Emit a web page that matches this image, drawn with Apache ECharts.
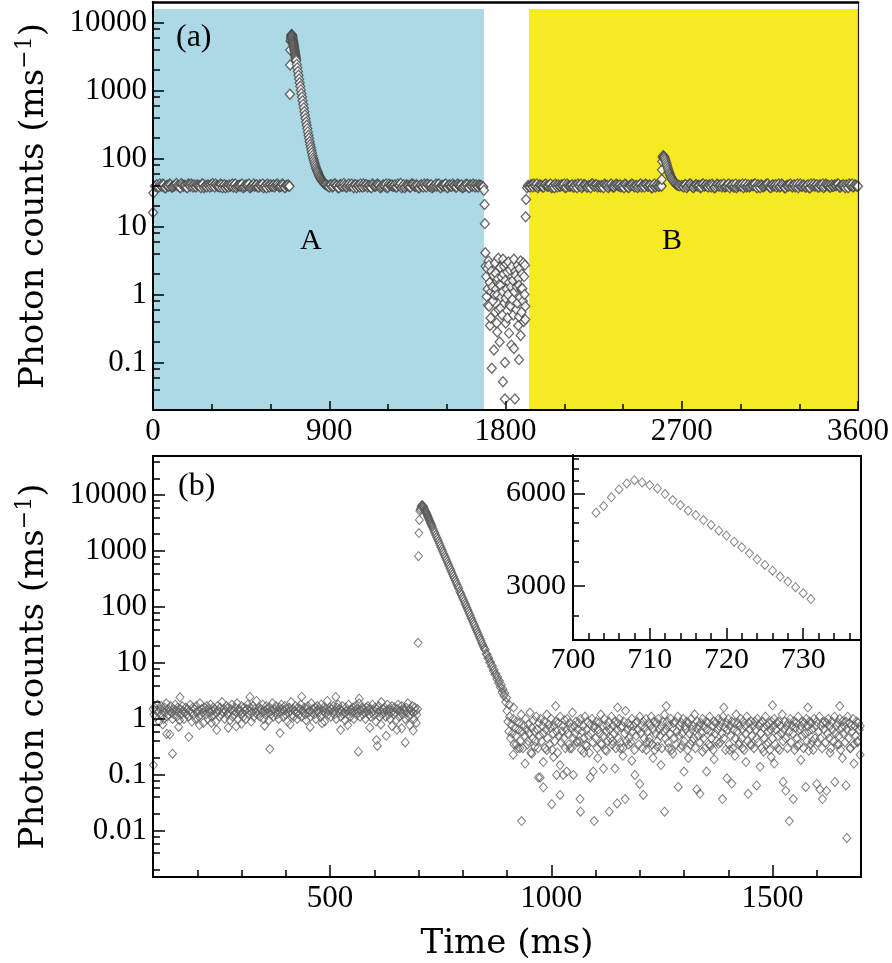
<!DOCTYPE html>
<html><head><meta charset="utf-8">
<script src="https://cdn.jsdelivr.net/npm/echarts@6/dist/echarts.min.js"></script>
<style>html,body{margin:0;padding:0;background:#fff}#c{width:892px;height:963px}</style>
</head><body><div id="c"></div><script>
// ---------------- Panel (a) data ----------------
const aStep = 10;                      // ms between listed baseline samples
const aStart = [[0,16],[2,31]];
const aBase1Start = 10;
const aBase1 = [39,41,38,40,42,37,40,39,41,38,40,43,39,37,41,40,38,42,39,40,
41,38,40,39,42,37,40,41,38,39,40,42,39,38,41,40,37,39,41,40,
38,42,39,40,41,37,39,40,42,38,40,39,41,38,40,42,39,37,40,41,
39,38,41,40,39,42,38,40,41];
const aBase1bStart = 15;
const aBase1b = [40,38,42,39,41,37,40,42,38,39,41,40,38,43,39,40,37,41,42,38,
39,41,40,37,42,39,38,40,41,43,38,40,39,42,37,41,40,38,39,42,
41,37,40,39,42,38,41,40,37,39,42,40,38,41,39,37,40,42,38,39,
41,40,42,38,39,41,37,40,39];
const aPeakA = [[697,39],[699,880],[700,2370],[701,3940],[703,5300],[704,5500],[705,5860],[706,6220],[707,6500],[708,6660],[709,6550],[710,6420],[711,6270],[712,6010],[713,5740],[714,5540],[715,5310],[716,5140],[717,4950],[718,4770],[719,4580],[720,4410],[721,4220],[722,4050],[723,3870],[724,3700],[725,3550],[726,3400],[727,3260],[728,3140],[729,3010],[730,2880],[731,2760],
[734,2420],[737,2150],[740,1900],[743,1670],[746,1480],[749,1300],[752,1150],[755,1020],[758,900],[761,800],[764,705],[767,625],[770,555],[773,492],[776,436],[779,388],[782,345],[785,308],[788,275],[791,246],[794,220],[797,198],[800,178],[803,161],[806,146],[809,133],[812,121],[815,111],[818,102],[821,95],[824,88],[827,82],[830,77],[833,72],[836,68],[839,65],[842,62],[845,59],[848,56],[851,54],[854,52],[857,50],[860,48.5],[863,47],[866,46],[869,45],[872,44],[875,43],[878,42],[881,41.5],[884,41]];
const aBase2Start = 890;
const aBase2 = [40,38,41,39,42,40,37,41,39,40,38,42,40,39,41,37,40,42,38,39,
41,40,38,42,39,40,41,37,39,40,42,38,40,41,39,38,42,40,37,41,
39,40,38,42,41,39,40,37,41,38,40,42,39,41,38,40,39,42,37,40,
41,38,40,39,42,40,38,41,39,37,40,42,38,41,39,40,41,38,40,39];
const aBase2bStart = 895;
const aBase2b = [39,41,38,42,40,37,41,39,43,38,40,39,42,37,41,40,38,39,42,41,
38,40,37,41,39,42,40,38,41,39,37,42,40,39,41,38,40,43,39,37,
41,40,38,42,39,41,37,40,39,42,38,41,40,37,39,42,41,38,40,39,
42,37,41,39,40,38,42,40,41,38,39,41,37,40,42,38,39,41,40,38];
const aGap = [[1686,38],[1690,34],[1693,21],[1695,11],[1697,4.1],[1699,2.6],[1702,1.83],[1704,0.93],[1707,2.4],[1709,1.2],[1711,0.7],[1713,3.1],[1716,2.7],[1716,0.67],[1719,1.5],[1721,0.35],[1724,0.45],[1726,1.1],[1728,2.2],[1730,0.082],[1733,1.3],[1735,0.8],[1738,1.9],[1741,0.153],[1743,1.0],[1746,2.9],[1748,0.55],[1750,2.05],[1752,1.2],[1755,0.38],[1758,0.99],[1758,0.28],[1761,1.7],[1763,3.4],[1765,0.6],[1768,1.4],[1770,0.2],[1773,2.5],[1775,1.37],[1775,0.63],[1778,0.9],[1780,1.8],[1783,0.5],[1785,1.1],[1787,3.3],[1787,0.052],[1790,2.0],[1792,2.6],[1794,0.75],[1797,0.1],[1797,0.029],[1799,1.6],[1801,0.88],[1801,0.38],[1804,2.8],[1806,1.2],[1809,2.15],[1811,0.45],[1813,1.0],[1815,3.0],[1818,1.5],[1818,0.27],[1821,0.7],[1823,2.3],[1826,0.67],[1828,1.3],[1830,0.18],[1833,2.6],[1835,0.84],[1838,1.6],[1840,0.5],[1843,3.3],[1843,0.16],[1845,1.1],[1848,0.029],[1850,2.2],[1852,1.9],[1855,0.6],[1857,1.3],[1860,0.75],[1862,2.7],[1865,0.35],[1867,1.7],[1869,1.37],[1869,0.47],[1869,0.11],[1872,2.4],[1874,0.9],[1877,3.1],[1877,0.25],[1880,1.2],[1882,0.55],[1884,2.0],[1886,1.22],[1889,0.8],[1891,2.9],[1893,0.4],[1895,1.83],[1897,1.0],[1899,2.7],[1901,0.67],[1901,0.43],[1903,13.9],[1905,25]];
const aBase3Start = 1910;
const aBase3 = [37,39,41,38,40,42,39,40,38,41,40,39,42,38,37,40,41,39,40,42,
38,40,39,41,38,40,42,39,37,41,40,38,39,42,40,41,38,39,40,37,
41,40,39,42,38,40,41,39,38,40,42,39,37,40,41,38,40,39,42,40,
38,41,39,40,37,42,40,39,41];
const aBase3bStart = 1915;
const aBase3b = [40,38,41,42,39,37,41,40,38,42,39,41,37,40,42,38,39,41,40,37,
42,39,40,38,41,37,40,42,39,41,38,40,37,42,39,41,40,38,39,42,
40,37,41,39,38,42,40,41,39,37,41,38,40,42,39,40,37,41,38,40,
42,39,41,37,40,38,41,39,40];
const aPeakB = [[2597,39],[2598,49],[2599,68],[2600,90],[2602,104],[2605,110],[2608,108],[2611,105],[2614,100],[2617,94],[2620,88],[2623,82],[2626,77],[2629,72],[2632,67],[2635,63],[2638,60],[2641,57],[2644,54],[2647,52],[2650,50],[2654,48],[2658,46],[2662,44.5],[2666,43],[2670,42],[2675,41],[2680,40.5],[2685,40],[2690,39.5]];
const aBase4Start = 2700;
const aBase4 = [40,38,41,39,42,40,37,41,39,40,38,42,40,39,41,38,40,37,42,39,
41,40,38,39,42,40,41,38,37,40,39,42,40,38,41,39,40,42,38,41,
37,40,39,41,42,38,40,39,41,40,38,42,39,37,40,41,39,40,38,42,
40,39,41,38,40,37,42,40,39,41,38,40,42,39,41,40,38,39,41,40,
42,38,40,39,41,37,40,42,39,40,39];
const aBase4bStart = 2705;
const aBase4b = [39,41,37,40,42,38,39,41,40,37,42,39,41,38,40,42,37,39,41,40,
38,42,39,41,37,40,38,42,39,41,40,37,42,39,38,41,40,42,37,39,
41,38,40,42,39,37,41,40,38,42,39,41,37,40,39,42,38,41,40,37,
42,39,40,38,41,37,39,42,40,38,41,39,37,42,40,38,41,39,40,42,
38,40,41,37,39,42,40,38,41,39];
const blueRange = [0, 1690];
const yellowRange = [1920, 3600];
const shadeTop = 15800;

// ---------------- Panel (b) data ----------------
const bStep = 2;
const bPreStart = 100;
const bPre = [1.5,1.2,1.6,1.1,1.4,1.8,1.3,0.9,1.5,1.7,1.2,1.4,1.0,1.6,1.3,1.9,1.1,1.5,1.2,1.4,
1.7,1.3,1.0,1.5,1.2,1.8,1.4,1.1,1.6,1.3,0.95,1.5,1.2,1.7,1.4,1.0,1.3,1.6,1.2,1.5,
1.1,1.4,1.8,1.3,0.9,1.6,1.2,1.5,1.0,1.7,1.3,1.4,1.1,1.9,1.2,1.5,1.3,0.85,1.6,1.4,
1.2,1.7,1.0,1.5,1.3,1.8,1.1,1.4,1.6,1.2,1.5,0.9,1.3,1.7,1.4,1.1,1.6,1.2,2.0,1.3,
1.5,1.0,1.4,1.7,1.2,1.6,1.3,0.95,1.5,1.8,1.1,1.4,1.2,1.6,1.3,1.9,1.0,1.5,1.4,1.2,
1.7,1.3,1.1,1.6,1.4,1.0,1.5,1.8,1.2,1.4,1.6,0.9,1.3,1.7,1.1,1.5,1.3,2.1,1.2,1.4,
1.6,1.1,1.5,1.3,1.8,1.0,1.4,1.2,1.7,1.5,1.3,0.95,1.6,1.2,1.4,1.9,1.1,1.5,1.3,1.7,
1.2,1.4,1.0,1.6,1.3,1.8,1.5,1.1,1.4,1.7,1.2,1.5,0.9,1.3,1.6,1.4,2.0,1.2,1.5,1.1,
1.4,1.7,1.3,1.0,1.6,1.2,1.5,1.8,1.1,1.4,1.3,1.6,1.2,0.95,1.5,1.7,1.3,1.4,1.1,1.9,
1.3,1.5,1.2,1.6,1.0,1.4,1.7,1.3,1.5,1.1,1.8,1.2,1.4,1.6,0.9,1.3,1.5,2.1,1.2,1.4,
1.6,1.1,1.5,1.3,1.7,1.2,1.4,1.0,1.6,1.8,1.3,1.5,1.1,1.4,1.7,1.2,1.3,0.95,1.6,1.4,
1.2,1.8,1.4,1.1,1.5,1.3,1.6,1.0,1.4,1.7,1.2,1.5,1.3,1.9,1.1,1.4,1.6,1.2,1.5,1.3,
1.0,1.6,1.4,1.7,1.2,1.5,1.1,1.3,1.8,1.4,1.2,1.6,0.9,1.5,1.3,1.7,1.1,1.4,2.0,1.2,
1.5,1.3,1.6,1.1,1.4,1.8,1.2,1.5,1.0,1.3,1.7,1.4,1.2,1.6,1.3,0.95,1.5,1.8,1.1,1.4,
1.3,1.7,1.2,1.5,1.4,1.0,1.6,1.3,1.9,1.1,1.5,1.2,1.4,1.7,1.3,1.0,1.6,1.4,1.2,1.5];
const bPreOff = [[101,0.15],[122,0.8],[131,0.54],[138,0.53],[144,0.24],[158,0.72],[161,2.44],[181,0.48],[205,0.78],[232,0.85],[244,0.64],[270,0.7],[288,0.74],[300,0.82],[319,2.47],[352,0.76],[364,0.29],[387,0.56],[410,0.8],[436,2.5],[455,0.72],[482,0.84],[513,2.47],[524,0.64],[540,0.78],[564,0.26],[566,2.3],[590,0.7],[605,0.42],[607,0.33],[615,0.8],[627,0.5],[640,0.75],[651,0.64],[662,0.68],[670,0.38],[680,0.78],[688,0.62],[695,0.85]];
const bRise = [[699,23],[700,810],[701,2100],[702,3600]];
const insetTime = [703,704,705,706,707,708,709,710,711,712,713,714,715,716,717,718,719,720,721,722,723,724,725,726,727,728,729,730,731];
const insetCount = [5190,5456,5824,6182,6466,6626,6514,6384,6229,5969,5707,5497,5269,5102,4915,4735,4538,4373,4179,4007,3831,3662,3509,3362,3217,3099,2972,2841,2717];
const bDecayStart = 733;
const bDecay = [2495,2292,2105,1933,1775,1630,1497,1375,1263,1160,1065,978,898,825,758,696,639,587,539,495,
455,418,383,352,323,297,273,251,230,215,190,178,164,150,138,127,116,107,98,90,
83,76,70,64,59,54,50,46,42,38.5,35.4,32.5,29.8,27.4,25.2,23.1,21.2,19.5,17.9,17.2,
14.5,14.3,12.1,12.3,10.2,10.4,8.7,8.9,7.3,7.6,6.2,6.4,5.2,5.6,4.4,4.8,3.7,4.1,3.0,3.4,
2.6,2.9,2.0,2.4];
const bPostStart = 900;
const bPost = [1.4,0.9,0.6,1.1,0.45,0.8,0.55,1.0,0.35,0.7,0.5,0.9,0.3,0.65,0.85,0.4,1.2,0.6,0.3,0.75,
0.5,1.0,0.65,0.35,0.8,0.55,1.3,0.25,0.7,0.45,0.95,0.6,0.4,1.1,0.65,0.3,0.85,0.5,1.0,0.4,
0.75,0.55,0.9,0.3,0.65,1.2,0.45,0.8,0.35,0.7,1.0,0.28,0.55,0.75,0.4,0.9,0.6,0.25,0.85,0.5,
1.1,0.38,0.6,0.75,0.45,0.95,0.3,0.65,1.0,0.55,0.35,0.85,0.7,0.3,1.3,0.45,0.75,0.55,0.9,0.4,
0.65,0.85,0.4,1.0,0.28,0.6,0.75,0.45,1.1,0.35,0.65,0.9,0.5,0.25,0.8,0.55,1.0,0.38,0.7,0.75,
0.45,0.9,0.3,0.65,0.85,0.55,1.2,0.35,0.75,0.5,1.0,0.28,0.6,0.75,0.4,0.9,0.65,0.45,1.1,0.35,
0.75,0.55,0.9,0.3,0.65,0.85,0.45,1.0,0.38,0.7,0.75,0.3,0.9,0.55,1.4,0.4,0.65,0.85,0.45,0.75,
0.38,1.0,0.6,0.75,0.28,0.85,0.5,0.9,0.65,0.35,1.1,0.55,0.75,0.3,0.9,0.45,0.7,1.0,0.38,0.6,
0.85,0.45,0.75,1.1,0.35,0.65,0.9,0.28,0.55,0.85,0.4,1.0,0.65,0.5,0.75,0.3,0.9,0.6,1.2,0.45,
0.65,0.9,0.38,0.75,0.55,1.0,0.28,0.7,0.85,0.45,0.9,0.35,0.6,1.1,0.5,0.75,0.3,0.85,0.55,1.0,
0.4,0.75,0.65,0.9,0.28,0.85,0.55,0.35,1.0,0.65,0.75,0.45,1.2,0.3,0.7,0.9,0.5,0.75,0.38,0.85,
0.55,1.0,0.45,0.75,0.3,0.9,0.65,0.85,0.35,1.1,0.6,0.45,0.75,0.28,0.9,0.55,0.85,0.4,0.65,1.0,
0.75,0.38,0.9,0.55,1.1,0.45,0.7,0.28,0.85,0.65,1.0,0.35,0.75,0.5,0.9,0.3,0.65,0.85,0.45,1.2,
0.6,0.85,0.35,0.75,1.0,0.45,0.65,0.9,0.28,0.75,0.55,1.1,0.4,0.85,0.65,0.35,0.9,0.5,0.75,0.3,
0.9,0.65,0.45,1.0,0.38,0.75,0.85,0.55,0.3,0.9,0.7,0.45,1.1,0.35,0.75,0.6,0.85,0.28,0.65,0.9,
0.45,0.75,1.0,0.35,0.65,0.85,0.5,0.9,0.28,0.75,0.55,1.2,0.4,0.65,0.9,0.45,0.75,0.3,0.85,0.6,
1.0,0.38,0.75,0.55,0.9,0.28,0.7,0.85,0.45,1.1,0.35,0.65,0.75,0.5,0.9,0.3,0.85,0.55,1.0,0.4,
0.75,0.6,0.9,0.35,0.85,0.65,0.28,1.0,0.45,0.75,0.9,0.38,0.6,1.1,0.45,0.75,0.3,0.85,0.65,0.9,
0.38,0.85,0.55,1.0,0.45,0.75,0.3,0.9,0.65,0.4,1.1,0.55,0.75,0.35,0.85,0.5,1.0,0.28,0.7,0.9,
0.55,0.75,0.38,0.9,0.65,1.1,0.45,0.85,0.3,0.75,0.6,1.0,0.35,0.75,0.5,0.9,0.4,0.85,0.65,0.75];
const bPostOff = [[905,1.8],[915,1.6],[914,0.23],[921,0.35],[929,0.3],[933,0.015],[941,0.16],[948,0.4],[956,0.24],[963,0.32],[971,0.09],[975,0.09],[982,0.06],[982,0.17],[990,0.28],[1001,0.03],[1005,0.21],[1010,1.7],[1012,0.1],[1020,0.044],[1020,0.15],[1027,0.1],[1035,0.115],[1042,0.3],[1050,0.1],[1058,0.38],[1065,0.037],[1066,0.022],[1074,0.25],[1080,0.33],[1088,0.09],[1095,0.115],[1097,0.015],[1105,0.2],[1112,0.36],[1118,0.13],[1125,0.27],[1131,0.022],[1138,0.4],[1144,0.13],[1149,0.031],[1150,1.6],[1156,0.3],[1162,0.22],[1167,0.037],[1175,0.35],[1182,0.18],[1189,0.1],[1200,0.069],[1208,0.044],[1215,0.28],[1222,0.38],[1230,0.2],[1240,0.32],[1248,0.15],[1256,0.022],[1260,1.7],[1265,0.3],[1275,0.24],[1287,0.061],[1295,0.34],[1300,0.115],[1310,0.2],[1318,0.4],[1329,0.055],[1336,0.046],[1342,0.26],[1351,0.115],[1360,0.33],[1368,0.19],[1378,0.36],[1387,0.037],[1390,1.6],[1397,0.087],[1403,0.28],[1408,0.07],[1415,0.22],[1425,0.38],[1432,0.3],[1440,0.17],[1445,0.046],[1452,0.34],[1464,0.065],[1472,0.14],[1480,0.26],[1490,0.38],[1497,0.21],[1500,1.75],[1504,0.16],[1512,0.3],[1524,0.075],[1530,0.052],[1538,0.015],[1547,0.037],[1556,0.33],[1564,0.185],[1575,0.061],[1580,1.6],[1582,0.27],[1590,0.4],[1600,0.069],[1607,0.055],[1613,0.037],[1622,0.052],[1630,0.25],[1641,0.075],[1650,0.35],[1652,1.7],[1658,0.2],[1666,0.065],[1668,0.0075],[1676,0.3],[1684,0.16],[1692,0.38],[1698,0.23]];

// ---------------- Tick values ----------------
const aXMajor = [0,900,1800,2700,3600];
const aXMinor = [300,600,1200,1500,2100,2400,3000,3300];
const aYMajor = [0.1,1,10,100,1000,10000];
const aYMinor = [0.02,0.04,0.06,0.08,0.2,0.4,0.6,0.8,2,4,6,8,20,40,60,80,200,400,600,800,2000,4000,6000,8000];
const bXMajor = [500,1000,1500];
const bXMinor = [200,300,400,600,700,800,900,1100,1200,1300,1400,1600];
const bYMajor = [0.01,0.1,1,10,100,1000,10000];
const bYMinor = [0.002,0.004,0.006,0.008,0.02,0.04,0.06,0.08,0.2,0.4,0.6,0.8,2,4,6,8,20,40,60,80,200,400,600,800,2000,4000,6000,8000,20000,40000];
const iXMajor = [700,710,720,730];
const iXMinor = [702,704,706,708,712,714,716,718,722,724,726,728,732,734,736];
const iYMajor = [3000,6000];
const iYMinor = [2400,3600,4200,4800,5400,6600,7200,7800];

// ---------------- Build ----------------
function seq(start, step, vals){ return vals.map((v,i)=>[start+i*step, v]); }
function zipT(ts, vs){ return ts.map((t,i)=>[t, vs[i]]); }
const aData = [].concat(aStart,
  seq(aBase1Start,aStep,aBase1), seq(aBase1bStart,aStep,aBase1b), aPeakA,
  seq(aBase2Start,aStep,aBase2), seq(aBase2bStart,aStep,aBase2b), aGap,
  seq(aBase3Start,aStep,aBase3), seq(aBase3bStart,aStep,aBase3b), aPeakB,
  seq(aBase4Start,aStep,aBase4), seq(aBase4bStart,aStep,aBase4b))
  .map((p,i)=>[p,i]).sort((u,w)=>(u[0][0]-w[0][0])||(u[1]-w[1])).map(q=>q[0]);
const bData = [].concat(seq(bPreStart,bStep,bPre), bPreOff, bRise, zipT(insetTime,insetCount),
  seq(bDecayStart,bStep,bDecay), seq(bPostStart,bStep,bPost), bPostOff);
const insetData = zipT(insetTime, insetCount);

const NUMF = 'Liberation Serif', TXTF = 'DejaVu Serif';
const fmt = v => String(+(+v).toPrecision(6));
const lab = (vals, margin, size) => ({show:true, customValues: vals, margin, fontFamily:NUMF, fontSize:size, color:'#000', formatter: fmt});
const noLab = {show:false};
const line = (w, c) => ({show:true, onZero:false, lineStyle:{color:c||'#000', width:w}});
const noLine = {show:false};
const tick = (vals, len) => ({show:true, inside:true, length:len, customValues: vals, lineStyle:{color:'#000', width:1.5}});
const noTick = {show:false};
const ns = {show:false};

function ax(o){ return Object.assign({splitLine:ns, z:5, axisPointer:{show:false}}, o); }

const yName = {
  name: 'Photon counts (ms{sup|−1})',
  nameLocation: 'middle', nameRotate: 90, nameGap: 99,
  nameTextStyle: {fontFamily:TXTF, fontSize:34, color:'#000', lineHeight:40,
    rich:{sup:{fontFamily:TXTF, fontSize:22, color:'#000', verticalAlign:'top', lineHeight:22}}}
};

const option = {
  animation:false,
  backgroundColor:'#fff',
  grid:[
    {left:153, top:2, width:707, height:408},
    {left:153, top:456, width:708, height:421},
    {left:573, top:455, width:287, height:185, show:true, backgroundColor:'#fff', borderWidth:0, z:3}
  ],
  xAxis:[
    ax({gridIndex:0, type:'value', min:0, max:3600, position:'bottom', axisLine:line(2), axisTick:tick(aXMajor,9), axisLabel:lab(aXMajor,6,31)}),
    ax({gridIndex:0, type:'value', min:0, max:3600, position:'bottom', axisLine:noLine, axisTick:tick(aXMinor,6), axisLabel:noLab}),
    ax({gridIndex:0, type:'value', min:0, max:3600, position:'top', axisLine:line(2.5), axisTick:noTick, axisLabel:noLab}),
    ax({gridIndex:1, type:'value', min:100, max:1700, position:'bottom', axisLine:line(2), axisTick:tick(bXMajor,12), axisLabel:lab(bXMajor,6,31),
        name:'Time (ms)', nameLocation:'middle', nameGap:50, nameTextStyle:{fontFamily:TXTF, fontSize:34, color:'#000'}}),
    ax({gridIndex:1, type:'value', min:100, max:1700, position:'bottom', axisLine:noLine, axisTick:tick(bXMinor,7), axisLabel:noLab}),
    ax({gridIndex:1, type:'value', min:100, max:1700, position:'top', axisLine:line(2), axisTick:noTick, axisLabel:noLab}),
    ax({gridIndex:2, type:'value', min:700, max:737.4, position:'bottom', axisLine:line(2), axisTick:tick(iXMajor,12), axisLabel:lab(iXMajor,5,30), z:6}),
    ax({gridIndex:2, type:'value', min:700, max:737.4, position:'bottom', axisLine:noLine, axisTick:tick(iXMinor,7), axisLabel:noLab, z:6})
  ],
  yAxis:[
    ax(Object.assign({gridIndex:0, type:'log', min:0.02, max:20000, position:'left', axisLine:line(2), axisTick:tick(aYMajor,11), axisLabel:lab(aYMajor,6,31)}, yName)),
    ax({gridIndex:0, type:'log', min:0.02, max:20000, position:'left', axisLine:noLine, axisTick:tick(aYMinor,7), axisLabel:noLab}),
    ax({gridIndex:0, type:'log', min:0.02, max:20000, position:'right', axisLine:line(1.2,'#222'), axisTick:noTick, axisLabel:noLab}),
    ax(Object.assign({gridIndex:1, type:'log', min:0.0015, max:50000, position:'left', axisLine:line(2), axisTick:tick(bYMajor,12), axisLabel:lab(bYMajor,6,31)}, yName)),
    ax({gridIndex:1, type:'log', min:0.0015, max:50000, position:'left', axisLine:noLine, axisTick:tick(bYMinor,7), axisLabel:noLab}),
    ax({gridIndex:1, type:'log', min:0.0015, max:50000, position:'right', axisLine:line(2), axisTick:noTick, axisLabel:noLab}),
    ax({gridIndex:2, type:'log', min:2000, max:8000, position:'left', axisLine:line(2), axisTick:tick(iYMajor,12), axisLabel:lab(iYMajor,7,30), z:6}),
    ax({gridIndex:2, type:'log', min:2000, max:8000, position:'left', axisLine:noLine, axisTick:tick(iYMinor,6), axisLabel:noLab, z:6})
  ],
  series:[
    {type:'scatter', xAxisIndex:0, yAxisIndex:0, data:[], z:1, silent:true,
     markArea:{silent:true, z:1, data:[
       [{xAxis:blueRange[0], yAxis:0.02, itemStyle:{color:'#add8e6'}},{xAxis:blueRange[1], yAxis:shadeTop}],
       [{xAxis:yellowRange[0], yAxis:0.02, itemStyle:{color:'#f6ea24'}},{xAxis:yellowRange[1], yAxis:shadeTop}]
     ]}},
    {type:'scatter', xAxisIndex:0, yAxisIndex:0, data:aData, z:3, silent:true, symbol:'diamond', symbolSize:[9,10],
     itemStyle:{color:'#fff', borderColor:'#444', borderWidth:1.3}},
    {type:'scatter', xAxisIndex:3, yAxisIndex:3, data:bData, z:3, silent:true, symbol:'diamond', symbolSize:[8,9],
     itemStyle:{color:'rgba(255,255,255,0)', borderColor:'#5e5e5e', borderWidth:1}},
    {type:'scatter', xAxisIndex:6, yAxisIndex:6, data:insetData, z:4, silent:true, symbol:'diamond', symbolSize:[8,9],
     itemStyle:{color:'rgba(255,255,255,0)', borderColor:'#666', borderWidth:1}}
  ],
  graphic:[
    {type:'text', left:176, top:22, z:20, style:{text:'(a)', font:'32px "Liberation Serif"', fill:'#000'}},
    {type:'text', left:178, top:471, z:20, style:{text:'(b)', font:'32px "Liberation Serif"', fill:'#000'}},
    {type:'text', left:300, top:226, z:20, style:{text:'A', font:'30px "Liberation Serif"', fill:'#000'}},
    {type:'text', left:662, top:226, z:20, style:{text:'B', font:'30px "Liberation Serif"', fill:'#000'}}
  ]
};
const chart = echarts.init(document.getElementById('c'));
chart.setOption(option);
</script></body></html>
